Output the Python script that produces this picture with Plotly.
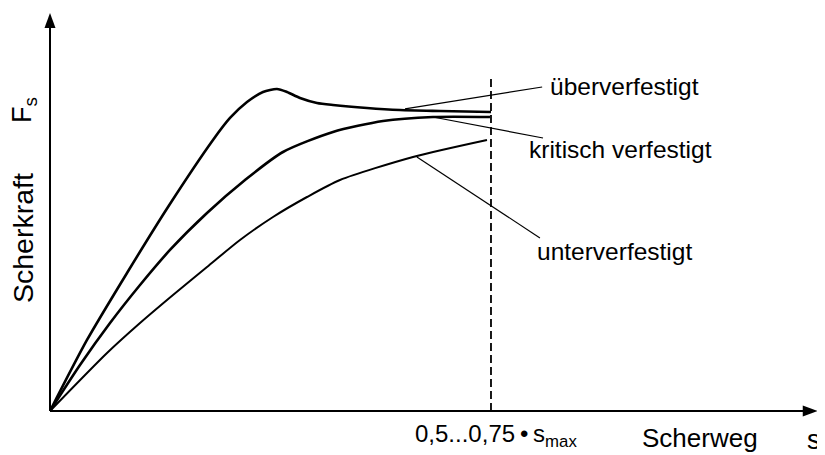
import plotly.graph_objects as go

# Data (s in % of the dashed marker position, F in % of residual level)
s_ueber = [0, 8.39, 17.46, 26.76, 36.96, 40.82, 44.67, 48.3, 51.47, 53.74, 56.69, 60.54, 64.17, 71.88, 79.37, 88.44, 100]
f_ueber = [0, 23.67, 46.0, 68.0, 90.33, 97.67, 103.0, 106.33, 107.33, 106.33, 104.33, 102.67, 102.0, 101.0, 100.33, 100.0, 99.67]

s_krit = [0, 6.8, 13.61, 20.41, 27.21, 35.6, 44.22, 52.83, 64.17, 75.51, 86.85, 99.77]
f_krit = [0, 15.33, 29.33, 42.0, 53.67, 66.0, 77.0, 86.33, 93.0, 96.67, 98.0, 98.0]

s_unter = [0, 12.93, 20.41, 27.89, 35.6, 43.08, 50.57, 58.28, 65.76, 82.31, 99.09]
f_unter = [0, 19.33, 29.33, 38.67, 48.0, 57.0, 64.67, 71.33, 77.0, 84.67, 90.33]

labels = ["überverfestigt", "kritisch verfestigt", "unterverfestigt"]
label_pos = [(112.9, 108.3), (108.2, 87.0), (110.0, 53.0)]
leader_from = [(80.5, 100.7), (86.8, 98.0), (83.2, 84.7)]
leader_to = [(111.6, 108.0), (111.8, 91.0), (111.1, 57.7)]

marker_s = 100
marker_top = 112
x_end = 174.1
y_end = 132.7

FONT = "Arial, Liberation Sans, sans-serif"

fig = go.Figure()
fig.add_trace(go.Scatter(x=s_ueber, y=f_ueber, mode="lines",
                         line=dict(color="black", width=2.6, shape="spline", smoothing=0.7)))
fig.add_trace(go.Scatter(x=s_krit, y=f_krit, mode="lines",
                         line=dict(color="black", width=2.6, shape="spline", smoothing=0.7)))
fig.add_trace(go.Scatter(x=s_unter, y=f_unter, mode="lines",
                         line=dict(color="black", width=2.0, shape="spline", smoothing=0.7)))

shapes = []
# axes
shapes.append(dict(type="line", x0=0, y0=0, x1=x_end - 3, y1=0, line=dict(color="black", width=2)))
shapes.append(dict(type="line", x0=0, y0=0, x1=0, y1=y_end - 4, line=dict(color="black", width=2)))
# arrow heads
shapes.append(dict(type="path",
                   path=f"M {x_end} 0 L {x_end-3.4} 1.85 L {x_end-3.4} -1.85 Z",
                   fillcolor="black", line=dict(color="black", width=0)))
shapes.append(dict(type="path",
                   path=f"M 0 {y_end} L 1.25 {y_end-5} L -1.25 {y_end-5} Z",
                   fillcolor="black", line=dict(color="black", width=0)))
# dashed marker
shapes.append(dict(type="line", x0=marker_s, y0=0, x1=marker_s, y1=marker_top,
                   line=dict(color="black", width=1.8, dash="8px,4px")))
# leader lines
for (x0, y0), (x1, y1) in zip(leader_from, leader_to):
    shapes.append(dict(type="line", x0=x0, y0=y0, x1=x1, y1=y1,
                       line=dict(color="black", width=1.2)))

annotations = []
for txt, (x, y) in zip(labels, label_pos):
    annotations.append(dict(x=x, y=y, text=txt, showarrow=False, xanchor="left", yanchor="middle",
                            font=dict(family=FONT, size=24.5, color="black")))
annotations.append(dict(x=82.3, y=-8, text="0,5...0,75\u2009•\u2009s<sub>max</sub>", showarrow=False,
                        xanchor="left", yanchor="middle", font=dict(family=FONT, size=24, color="black")))
annotations.append(dict(x=133.8, y=-9, text="Scherweg", showarrow=False,
                        xanchor="left", yanchor="middle", font=dict(family=FONT, size=26, color="black")))
annotations.append(dict(x=171.3, y=-9.5, text="s", showarrow=False,
                        xanchor="left", yanchor="middle", font=dict(family=FONT, size=27, color="black")))
annotations.append(dict(x=-6.1, y=57.7, text="Scherkraft", showarrow=False, textangle=-90,
                        xanchor="center", yanchor="middle", font=dict(family=FONT, size=28.5, color="black")))
annotations.append(dict(x=-5.9, y=100.3, text="F<sub>s</sub>", showarrow=False, textangle=-90,
                        xanchor="center", yanchor="middle", font=dict(family=FONT, size=27, color="black")))

# Figure is placed at the page's 8px body offset; ranges map page pixels 8..825 / 8..455
fig.update_layout(
    width=817, height=447, autosize=False,
    margin=dict(l=0, r=0, t=0, b=0),
    paper_bgcolor="white", plot_bgcolor="white",
    showlegend=False,
    xaxis=dict(range=[-9.524, 175.74], visible=False, fixedrange=True),
    yaxis=dict(range=[-14.667, 134.33], visible=False, fixedrange=True),
    shapes=shapes, annotations=annotations,
)

fig.write_html("out.html")
